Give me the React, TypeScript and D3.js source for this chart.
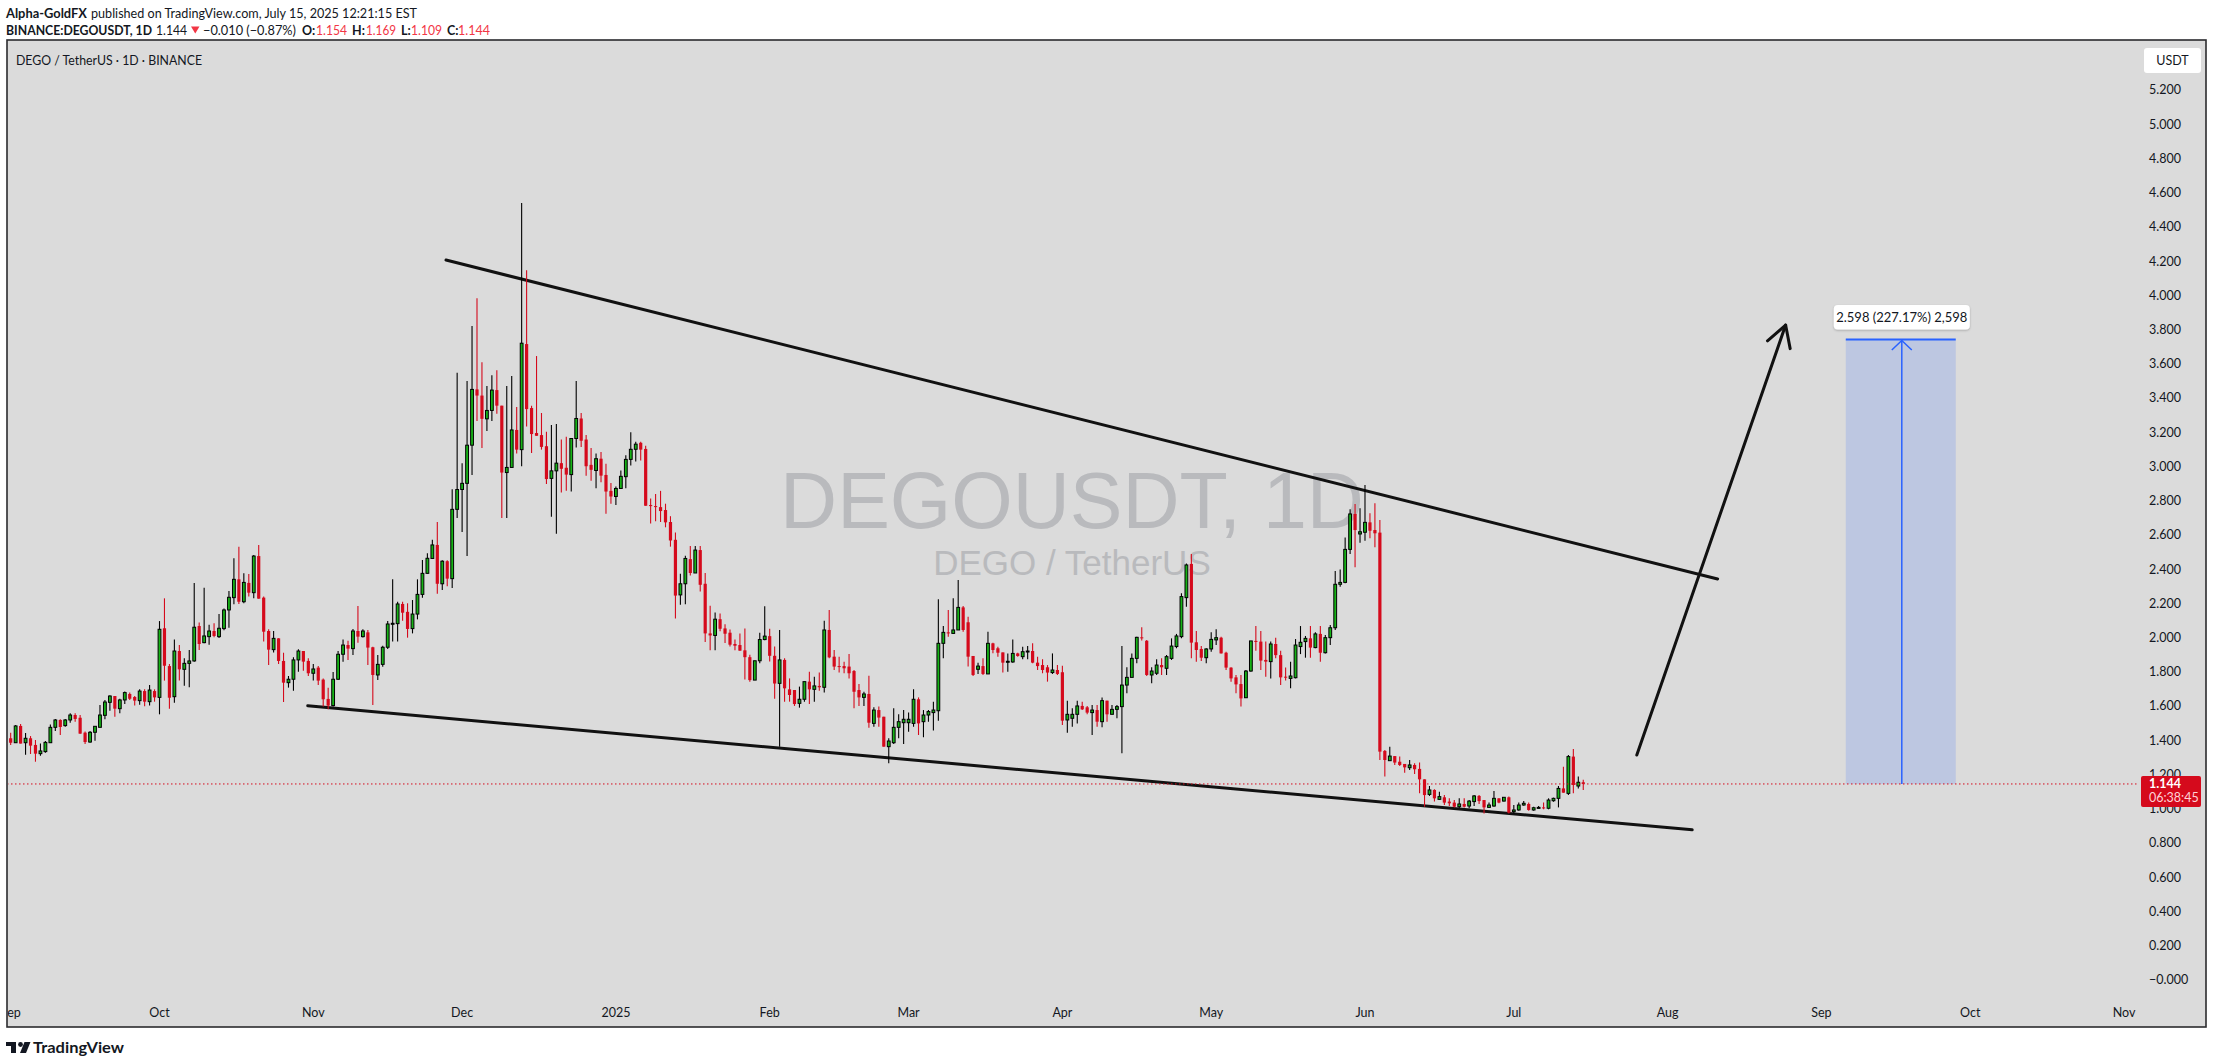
import React from 'react';
import * as d3 from 'd3';

const START_DATE = '2024-09-01T00:00:00Z';

const opens = [
  1.411, 1.385, 1.483, 1.385, 1.411, 1.372, 1.321, 1.333, 1.385, 1.475,
  1.518, 1.485, 1.518, 1.547, 1.531, 1.444, 1.389, 1.446, 1.475, 1.545,
  1.621, 1.658, 1.584, 1.635, 1.670, 1.652, 1.631, 1.687, 1.625, 1.687,
  1.650, 2.054, 1.833, 1.654, 1.921, 1.814, 1.849, 1.863, 2.067, 1.970,
  2.005, 2.038, 2.005, 2.052, 2.161, 2.233, 2.340, 2.209, 2.319, 2.262,
  2.476, 2.233, 2.038, 1.929, 1.995, 1.863, 1.736, 1.756, 1.869, 1.921,
  1.863, 1.791, 1.824, 1.754, 1.641, 1.602, 1.756, 1.902, 1.956, 1.935,
  2.038, 2.005, 2.030, 1.943, 1.781, 1.843, 1.943, 2.079, 2.081, 2.196,
  2.150, 2.052, 2.137, 2.252, 2.375, 2.462, 2.541, 2.314, 2.446, 2.344,
  2.749, 2.865, 2.901, 3.124, 3.450, 3.414, 3.278, 3.327, 3.446, 3.355,
  2.964, 2.994, 3.213, 3.098, 3.715, 3.341, 3.195, 3.183, 3.118, 2.930,
  2.974, 3.019, 2.992, 2.952, 3.163, 3.280, 3.157, 3.009, 2.976, 3.045,
  2.950, 2.857, 2.824, 2.871, 2.940, 3.041, 3.100, 3.138, 3.102, 2.774,
  2.768, 2.762, 2.745, 2.675, 2.571, 2.249, 2.314, 2.458, 2.377, 2.511,
  2.314, 2.024, 2.012, 2.107, 2.053, 2.028, 1.962, 1.956, 1.925, 1.885,
  1.751, 1.864, 1.988, 2.008, 1.893, 1.732, 1.869, 1.697, 1.693, 1.615,
  1.639, 1.742, 1.697, 1.717, 1.709, 2.044, 1.888, 1.833, 1.833, 1.830,
  1.804, 1.693, 1.650, 1.670, 1.498, 1.576, 1.537, 1.362, 1.385, 1.475,
  1.502, 1.502, 1.498, 1.639, 1.508, 1.547, 1.561, 1.572, 1.966, 2.030,
  2.024, 2.044, 2.176, 2.089, 1.892, 1.814, 1.833, 1.787, 1.966, 1.937,
  1.913, 1.857, 1.857, 1.907, 1.888, 1.917, 1.921, 1.853, 1.839, 1.826,
  1.795, 1.810, 1.797, 1.518, 1.528, 1.551, 1.600, 1.592, 1.561, 1.576,
  1.508, 1.631, 1.551, 1.580, 1.596, 1.722, 1.767, 1.878, 2.001, 1.981,
  1.781, 1.791, 1.839, 1.820, 1.878, 1.947, 2.005, 2.233, 2.430, 1.972,
  1.933, 1.882, 1.933, 1.986, 1.999, 1.911, 1.824, 1.767, 1.728, 1.648,
  1.804, 1.980, 1.976, 1.869, 1.859, 1.962, 1.897, 1.771, 1.761, 1.765,
  1.947, 1.976, 1.995, 1.941, 2.021, 1.911, 1.999, 2.057, 2.311, 2.322,
  2.515, 2.722, 2.605, 2.615, 2.673, 2.628, 2.613, 1.337, 1.280, 1.307,
  1.274, 1.261, 1.239, 1.255, 1.232, 1.171, 1.083, 1.109, 1.054, 1.066,
  1.041, 1.035, 1.011, 1.027, 1.015, 1.041, 1.074, 1.050, 1.007, 1.015,
  1.060, 1.044, 1.066, 0.982, 0.992, 1.021, 1.027, 0.992, 1.005, 1.007,
  1.002, 1.046, 1.060, 1.118, 1.089, 1.304, 1.132, 1.154
];

const highs = [
  1.444, 1.489, 1.494, 1.442, 1.424, 1.401, 1.381, 1.395, 1.492, 1.524,
  1.522, 1.524, 1.557, 1.557, 1.547, 1.450, 1.454, 1.483, 1.606, 1.635,
  1.662, 1.658, 1.642, 1.685, 1.678, 1.658, 1.697, 1.697, 1.722, 1.697,
  2.096, 2.229, 1.845, 1.989, 1.956, 1.878, 1.927, 2.319, 2.087, 2.291,
  2.075, 2.083, 2.137, 2.169, 2.272, 2.463, 2.530, 2.375, 2.371, 2.482,
  2.540, 2.239, 2.048, 2.038, 1.995, 1.911, 1.775, 1.884, 1.931, 1.921,
  1.878, 1.845, 1.833, 1.761, 1.707, 1.798, 1.921, 1.989, 1.981, 2.050,
  2.184, 2.048, 2.044, 1.946, 1.898, 1.952, 2.096, 2.340, 2.209, 2.209,
  2.200, 2.219, 2.340, 2.453, 2.492, 2.571, 2.675, 2.452, 2.452, 2.867,
  3.547, 3.019, 3.499, 3.821, 3.983, 3.608, 3.470, 3.533, 3.562, 3.355,
  3.470, 3.529, 3.347, 4.540, 4.147, 3.355, 3.645, 3.312, 3.203, 3.242,
  3.248, 3.157, 3.173, 3.163, 3.499, 3.312, 3.183, 3.108, 3.075, 3.084,
  3.015, 2.903, 2.883, 2.976, 3.065, 3.199, 3.144, 3.144, 3.120, 2.812,
  2.838, 2.857, 2.782, 2.709, 2.614, 2.373, 2.478, 2.535, 2.535, 2.535,
  2.377, 2.186, 2.146, 2.140, 2.077, 2.047, 1.988, 2.024, 2.053, 1.899,
  1.864, 2.028, 2.182, 2.051, 1.948, 2.044, 1.878, 1.761, 1.693, 1.713,
  1.742, 1.800, 1.771, 1.795, 2.098, 2.161, 1.927, 1.888, 1.859, 1.904,
  1.810, 1.728, 1.683, 1.777, 1.592, 1.596, 1.537, 1.411, 1.586, 1.551,
  1.576, 1.561, 1.697, 1.650, 1.576, 1.576, 1.625, 2.223, 2.067, 2.161,
  2.229, 2.336, 2.184, 2.122, 1.892, 1.853, 1.878, 2.034, 1.970, 1.946,
  1.913, 1.907, 1.989, 1.911, 1.946, 1.950, 1.966, 1.888, 1.873, 1.839,
  1.907, 1.839, 1.835, 1.631, 1.586, 1.631, 1.625, 1.600, 1.606, 1.606,
  1.650, 1.631, 1.606, 1.606, 1.950, 1.826, 1.907, 2.005, 2.060, 1.985,
  1.826, 1.873, 1.878, 1.898, 1.995, 2.021, 2.258, 2.433, 2.488, 2.038,
  1.950, 1.937, 2.030, 2.048, 2.005, 1.917, 1.826, 1.781, 1.781, 1.810,
  1.980, 2.067, 2.038, 1.976, 1.976, 1.999, 1.923, 1.824, 1.859, 1.991,
  2.067, 2.009, 2.067, 2.030, 2.067, 2.015, 2.073, 2.389, 2.398, 2.585,
  2.749, 2.780, 2.755, 2.891, 2.726, 2.784, 2.687, 1.343, 1.362, 1.307,
  1.304, 1.261, 1.284, 1.265, 1.269, 1.171, 1.132, 1.113, 1.099, 1.080,
  1.060, 1.050, 1.060, 1.060, 1.050, 1.080, 1.080, 1.050, 1.035, 1.103,
  1.060, 1.066, 1.070, 1.021, 1.035, 1.044, 1.035, 1.011, 1.015, 1.035,
  1.060, 1.064, 1.132, 1.245, 1.313, 1.348, 1.187, 1.169
];

const lows = [
  1.372, 1.385, 1.380, 1.315, 1.319, 1.274, 1.309, 1.327, 1.385, 1.454,
  1.430, 1.479, 1.502, 1.508, 1.438, 1.378, 1.385, 1.397, 1.475, 1.522,
  1.572, 1.537, 1.557, 1.611, 1.635, 1.602, 1.607, 1.598, 1.602, 1.625,
  1.551, 1.748, 1.584, 1.619, 1.748, 1.718, 1.709, 1.859, 1.927, 1.966,
  1.958, 2.001, 1.997, 2.042, 2.057, 2.194, 2.196, 2.200, 2.239, 2.229,
  2.227, 1.976, 1.839, 1.913, 1.845, 1.623, 1.707, 1.689, 1.800, 1.806,
  1.775, 1.748, 1.722, 1.596, 1.580, 1.596, 1.752, 1.859, 1.869, 1.898,
  1.970, 2.000, 1.839, 1.605, 1.752, 1.829, 1.933, 1.976, 1.976, 2.098,
  1.999, 2.024, 2.106, 2.233, 2.373, 2.462, 2.255, 2.278, 2.300, 2.290,
  2.699, 2.616, 2.476, 2.950, 3.266, 3.108, 3.207, 3.266, 3.308, 2.699,
  2.699, 2.990, 3.075, 3.001, 3.233, 3.078, 3.179, 3.098, 2.897, 2.705,
  2.606, 2.847, 2.857, 2.853, 3.110, 3.114, 2.946, 2.916, 2.873, 2.907,
  2.723, 2.782, 2.774, 2.871, 2.873, 3.005, 3.029, 3.035, 2.770, 2.666,
  2.679, 2.675, 2.644, 2.531, 2.111, 2.191, 2.195, 2.363, 2.377, 2.269,
  1.974, 1.925, 1.925, 2.037, 1.968, 1.948, 1.925, 1.923, 1.755, 1.741,
  1.751, 1.850, 1.984, 1.860, 1.642, 1.362, 1.625, 1.625, 1.600, 1.590,
  1.625, 1.611, 1.625, 1.689, 1.678, 1.878, 1.810, 1.795, 1.791, 1.761,
  1.586, 1.600, 1.600, 1.473, 1.479, 1.479, 1.362, 1.265, 1.378, 1.411,
  1.378, 1.449, 1.479, 1.430, 1.417, 1.508, 1.456, 1.514, 1.878, 2.005,
  2.020, 2.044, 2.034, 1.830, 1.775, 1.787, 1.781, 1.787, 1.908, 1.888,
  1.795, 1.800, 1.853, 1.888, 1.873, 1.873, 1.849, 1.810, 1.791, 1.742,
  1.787, 1.781, 1.489, 1.444, 1.479, 1.498, 1.576, 1.551, 1.430, 1.479,
  1.475, 1.508, 1.551, 1.528, 1.323, 1.674, 1.767, 1.849, 1.983, 1.775,
  1.732, 1.781, 1.781, 1.781, 1.869, 1.937, 1.995, 2.180, 1.878, 1.859,
  1.863, 1.849, 1.917, 1.956, 1.907, 1.810, 1.742, 1.674, 1.596, 1.648,
  1.800, 1.923, 1.810, 1.771, 1.761, 1.878, 1.722, 1.748, 1.703, 1.761,
  1.903, 1.882, 1.882, 1.937, 1.859, 1.907, 1.956, 2.044, 2.297, 2.317,
  2.488, 2.410, 2.554, 2.566, 2.580, 2.527, 1.284, 1.187, 1.280, 1.255,
  1.249, 1.210, 1.226, 1.202, 1.089, 1.011, 1.074, 1.041, 1.050, 1.021,
  1.015, 1.007, 1.002, 1.007, 1.002, 1.015, 1.027, 0.972, 1.007, 1.011,
  1.031, 1.041, 0.972, 0.972, 0.988, 1.017, 0.988, 0.988, 1.002, 0.996,
  0.996, 1.040, 1.007, 1.093, 1.079, 1.089, 1.118, 1.109
];

const closes = [
  1.385, 1.483, 1.380, 1.411, 1.368, 1.321, 1.337, 1.387, 1.475, 1.518,
  1.477, 1.518, 1.547, 1.524, 1.438, 1.389, 1.446, 1.481, 1.547, 1.623,
  1.658, 1.584, 1.635, 1.678, 1.642, 1.631, 1.687, 1.625, 1.693, 1.650,
  2.048, 1.835, 1.648, 1.921, 1.814, 1.849, 1.863, 2.060, 1.962, 2.009,
  2.038, 2.009, 2.054, 2.161, 2.235, 2.340, 2.209, 2.322, 2.262, 2.476,
  2.227, 2.034, 1.929, 1.995, 1.863, 1.736, 1.756, 1.869, 1.921, 1.859,
  1.791, 1.816, 1.748, 1.639, 1.602, 1.756, 1.902, 1.956, 1.935, 2.038,
  2.005, 2.038, 1.941, 1.781, 1.843, 1.943, 2.079, 2.083, 2.196, 2.145,
  2.050, 2.137, 2.252, 2.375, 2.463, 2.541, 2.314, 2.446, 2.344, 2.749,
  2.865, 2.901, 3.124, 3.450, 3.414, 3.278, 3.327, 3.446, 3.355, 2.964,
  2.994, 3.213, 3.098, 3.720, 3.335, 3.189, 3.179, 3.114, 2.926, 2.974,
  3.019, 2.986, 2.952, 3.163, 3.280, 3.150, 3.001, 2.980, 3.045, 2.946,
  2.853, 2.824, 2.871, 2.942, 3.041, 3.100, 3.130, 3.098, 2.770, 2.768,
  2.764, 2.739, 2.673, 2.567, 2.245, 2.314, 2.462, 2.377, 2.511, 2.308,
  2.024, 2.012, 2.107, 2.051, 2.022, 1.958, 1.952, 1.923, 1.885, 1.751,
  1.864, 1.988, 2.008, 1.893, 1.731, 1.869, 1.703, 1.664, 1.611, 1.639,
  1.742, 1.697, 1.717, 1.709, 2.044, 1.884, 1.830, 1.830, 1.820, 1.791,
  1.683, 1.650, 1.670, 1.502, 1.576, 1.532, 1.362, 1.395, 1.475, 1.508,
  1.522, 1.522, 1.639, 1.498, 1.547, 1.567, 1.576, 1.966, 2.030, 2.024,
  2.044, 2.176, 2.044, 1.888, 1.781, 1.833, 1.787, 1.966, 1.927, 1.911,
  1.853, 1.861, 1.907, 1.892, 1.917, 1.921, 1.853, 1.833, 1.810, 1.795,
  1.810, 1.787, 1.514, 1.551, 1.551, 1.600, 1.580, 1.561, 1.576, 1.508,
  1.631, 1.551, 1.580, 1.596, 1.722, 1.767, 1.878, 2.001, 1.995, 1.781,
  1.804, 1.839, 1.826, 1.888, 1.950, 2.009, 2.239, 2.424, 1.970, 1.927,
  1.882, 1.933, 1.989, 1.999, 1.907, 1.824, 1.761, 1.726, 1.644, 1.804,
  1.980, 1.976, 1.865, 1.859, 1.962, 1.897, 1.767, 1.767, 1.775, 1.956,
  1.972, 1.995, 1.941, 2.021, 1.911, 1.999, 2.057, 2.311, 2.322, 2.515,
  2.722, 2.628, 2.618, 2.673, 2.624, 2.609, 1.333, 1.284, 1.307, 1.269,
  1.255, 1.241, 1.255, 1.230, 1.171, 1.079, 1.109, 1.060, 1.070, 1.035,
  1.031, 1.011, 1.027, 1.011, 1.044, 1.074, 1.044, 1.007, 1.021, 1.060,
  1.035, 1.066, 0.976, 0.992, 1.021, 1.031, 0.992, 1.005, 1.007, 1.002,
  1.050, 1.060, 1.118, 1.093, 1.304, 1.138, 1.154, 1.144
];

const priceTicks = [0, 0.2, 0.4, 0.6, 0.8, 1.0, 1.2, 1.4, 1.6, 1.8, 2.0, 2.2, 2.4, 2.6, 2.8, 3.0, 3.2, 3.4, 3.6, 3.8, 4.0, 4.2, 4.4, 4.6, 4.8, 5.0, 5.2];
const priceTickLabels = ['\u22120.000', '0.200', '0.400', '0.600', '0.800', '1.000', '1.200', '1.400', '1.600', '1.800', '2.000', '2.200', '2.400', '2.600', '2.800', '3.000', '3.200', '3.400', '3.600', '3.800', '4.000', '4.200', '4.400', '4.600', '4.800', '5.000', '5.200'];

const monthTickDates = ['2024-09-01', '2024-10-01', '2024-11-01', '2024-12-01', '2025-01-01', '2025-02-01', '2025-03-01', '2025-04-01', '2025-05-01', '2025-06-01', '2025-07-01', '2025-08-01', '2025-09-01', '2025-10-01', '2025-11-01'];
const monthTickLabels = ['Sep', 'Oct', 'Nov', 'Dec', '2025', 'Feb', 'Mar', 'Apr', 'May', 'Jun', 'Jul', 'Aug', 'Sep', 'Oct', 'Nov'];

const upperTrendDates = ['2024-11-27T18:00:00Z', '2025-08-11T02:00:00Z'];
const upperTrendPrices = [4.206, 2.342];
const lowerTrendDates = ['2024-10-30T21:00:00Z', '2025-08-05T23:00:00Z'];
const lowerTrendPrices = [1.601, 0.876];
const arrowDates = ['2025-07-25T19:00:00Z', '2025-08-24T19:00:00Z'];
const arrowPrices = [1.313, 3.826];
const rangeDates = ['2025-09-05T22:00:00Z', '2025-09-17T05:00:00Z', '2025-09-28T02:00:00Z'];
const rangePrices = [1.144, 3.742];
const rangeLabel = '2.598 (227.17%) 2,598';
const lastPrice = 1.144;
const lastPriceLabel = '1.144';
const countdownLabel = '06:38:45';

const UP = '#16b316';
const DOWN = '#d50a1c';
const INK = '#131722';
const BG = '#dbdbdb';
const UI_FONT = "Lato, 'Open Sans', 'Noto Sans', sans-serif";

export default function App() {
  const W = 2213;
  const H = 1064;
  const frame = { left: 7, top: 40, right: 2206, bottom: 1027 };
  const paneRight = 2138;

  const x = d3
    .scaleUtc()
    .domain([new Date('2024-10-01T00:00:00Z'), new Date('2025-11-01T00:00:00Z')])
    .range([159.5, 2124]);
  const y = d3.scaleLinear().domain([0, 5.2]).range([979.7, 89.98]);

  const start = new Date(START_DATE);
  const candles = opens.map((o, i) => ({
    date: d3.utcDay.offset(start, i),
    o,
    h: highs[i],
    l: lows[i],
    c: closes[i],
  }));

  const bw = 2.8;

  const pt = (d: string, p: number): [number, number] => [x(new Date(d)), y(p)];

  const [u0, u1] = [pt(upperTrendDates[0], upperTrendPrices[0]), pt(upperTrendDates[1], upperTrendPrices[1])];
  const [l0, l1] = [pt(lowerTrendDates[0], lowerTrendPrices[0]), pt(lowerTrendDates[1], lowerTrendPrices[1])];
  const [a0, a1] = [pt(arrowDates[0], arrowPrices[0]), pt(arrowDates[1], arrowPrices[1])];

  const dx = a1[0] - a0[0];
  const dy = a1[1] - a0[1];
  const len = Math.hypot(dx, dy);
  const ux = -dx / len;
  const uy = -dy / len;
  const ang = Math.PI / 6;
  const hl = 24;
  const w1: [number, number] = [
    a1[0] + hl * (ux * Math.cos(ang) - uy * Math.sin(ang)),
    a1[1] + hl * (ux * Math.sin(ang) + uy * Math.cos(ang)),
  ];
  const w2: [number, number] = [
    a1[0] + hl * (ux * Math.cos(-ang) - uy * Math.sin(-ang)),
    a1[1] + hl * (ux * Math.sin(-ang) + uy * Math.cos(-ang)),
  ];

  const rx0 = x(new Date(rangeDates[0]));
  const rxm = x(new Date(rangeDates[1]));
  const rx1 = x(new Date(rangeDates[2]));
  const ryB = y(rangePrices[0]);
  const ryT = y(rangePrices[1]);

  const lpY = y(lastPrice);

  const line = d3.line();

  return (
    <div style={{ position: 'absolute', left: 0, top: 0 }}>
      <svg width={W} height={H} style={{ display: 'block' }} xmlns="http://www.w3.org/2000/svg">
        <defs>
          <clipPath id="pane">
            <rect x={frame.left + 1} y={frame.top + 1} width={paneRight - frame.left - 1} height={frame.bottom - frame.top - 2} />
          </clipPath>
          <clipPath id="taxis">
            <rect x={frame.left + 1} y={frame.top} width={frame.right - frame.left - 2} height={frame.bottom - frame.top} />
          </clipPath>
          <filter id="shadow" x="-10%" y="-30%" width="120%" height="160%">
            <feDropShadow dx="0" dy="1" stdDeviation="1.2" floodColor="#000" floodOpacity="0.25" />
          </filter>
        </defs>
        <rect x={0} y={0} width={W} height={H} fill="#ffffff" />

        {/* header */}
        <g fontFamily={UI_FONT} fontSize={12.5} fill={INK}>
          <text x={6} y={17.5} fontWeight={700} textLength={81} lengthAdjust="spacingAndGlyphs">Alpha-GoldFX</text>
          <text x={91} y={17.5} textLength={326} lengthAdjust="spacingAndGlyphs">published on TradingView.com, July 15, 2025 12:21:15 EST</text>
          <text x={6} y={34.5} fontWeight={700} textLength={146} lengthAdjust="spacingAndGlyphs">BINANCE:DEGOUSDT, 1D</text>
          <text x={156} y={34.5} textLength={31} lengthAdjust="spacingAndGlyphs">1.144</text>
          <path d="M191,26.5 L199.5,26.5 L195.25,33.5 Z" fill="#f23645" />
          <text x={203} y={34.5} textLength={93} lengthAdjust="spacingAndGlyphs">{'\u22120.010 (\u22120.87%)'}</text>
          <text x={302} y={34.5} fontWeight={700}>O:</text>
          <text x={316} y={34.5} fill="#f23645" textLength={31} lengthAdjust="spacingAndGlyphs">1.154</text>
          <text x={352} y={34.5} fontWeight={700}>H:</text>
          <text x={366} y={34.5} fill="#f23645" textLength={30} lengthAdjust="spacingAndGlyphs">1.169</text>
          <text x={401} y={34.5} fontWeight={700}>L:</text>
          <text x={411} y={34.5} fill="#f23645" textLength={31} lengthAdjust="spacingAndGlyphs">1.109</text>
          <text x={447} y={34.5} fontWeight={700}>C:</text>
          <text x={458} y={34.5} fill="#f23645" textLength={32} lengthAdjust="spacingAndGlyphs">1.144</text>
        </g>

        {/* frame */}
        <rect x={frame.left} y={frame.top} width={frame.right - frame.left} height={frame.bottom - frame.top} fill={BG} stroke="#2b2b2e" strokeWidth={1.6} />

        <text x={16} y={65} fontFamily={UI_FONT} fontSize={13.5} fill={INK} textLength={186} lengthAdjust="spacingAndGlyphs">
          {'DEGO / TetherUS \u00b7 1D \u00b7 BINANCE'}
        </text>

        {/* watermark */}
        <g fontFamily="'Liberation Sans', Arial, sans-serif" fill="#b9babd" textAnchor="middle">
          <text x={1072} y={528} fontSize={79}>DEGOUSDT, 1D</text>
          <text x={1072} y={575} fontSize={35}>DEGO / TetherUS</text>
        </g>

        <g clipPath="url(#pane)">
          <path d={line([u0, u1]) || ''} stroke="#111" strokeWidth={3} fill="none" strokeLinecap="round" />
          <path d={line([l0, l1]) || ''} stroke="#111" strokeWidth={3} fill="none" strokeLinecap="round" />

          {candles.map((d, i) => {
            const cx = x(d.date);
            const up = d.c >= d.o;
            const top = y(Math.max(d.o, d.c));
            const bot = y(Math.min(d.o, d.c));
            const bh = Math.max(bot - top, 1);
            return (
              <g key={i}>
                <line x1={cx} x2={cx} y1={y(d.h)} y2={y(d.l)} stroke={up ? '#000' : DOWN} strokeWidth={1.1} />
                {up ? (
                  <rect x={cx - bw / 2} y={top} width={bw} height={bh} fill={UP} stroke="#000" strokeWidth={1} />
                ) : (
                  <rect x={cx - 1.6} y={top} width={3.2} height={bh} fill={DOWN} />
                )}
              </g>
            );
          })}

          <path d={line([a0, a1]) || ''} stroke="#111" strokeWidth={3} fill="none" strokeLinecap="round" />
          <path d={line([w1, a1, w2]) || ''} stroke="#111" strokeWidth={3} fill="none" strokeLinecap="round" strokeLinejoin="round" />

          <rect x={rx0} y={ryT} width={rx1 - rx0} height={ryB - ryT} fill="rgba(41,98,255,0.17)" />
          <line x1={rx0} x2={rx1} y1={ryT} y2={ryT} stroke="#2962ff" strokeWidth={2} />
          <line x1={rxm} x2={rxm} y1={ryB} y2={ryT + 1} stroke="#2962ff" strokeWidth={1.5} />
          <path d={`M${rxm - 10},${ryT + 10.5} L${rxm},${ryT + 1} L${rxm + 10},${ryT + 10.5}`} stroke="#2962ff" strokeWidth={1.5} fill="none" />
          <g filter="url(#shadow)">
            <rect x={rxm - 68} y={ryT - 34.5} width={136} height={24.5} rx={4} fill="#ffffff" />
          </g>
          <text x={rxm} y={ryT - 17.5} textAnchor="middle" fontFamily={UI_FONT} fontSize={13} fill={INK}>{rangeLabel}</text>

          <line x1={frame.left} x2={paneRight + 4} y1={lpY} y2={lpY} stroke={DOWN} strokeWidth={1} strokeDasharray="1.5 2.5" />
        </g>

        {/* price axis */}
        <g fontFamily={UI_FONT} fontSize={12.5} fill={INK}>
          {priceTicks.map((v, i) => (
            <text key={i} x={2149} y={y(v) + 4.5}>{priceTickLabels[i]}</text>
          ))}
        </g>
        <rect x={2144} y={48} width={57} height={25} rx={3} fill="#ffffff" />
        <text x={2172.5} y={65} textAnchor="middle" fontFamily={UI_FONT} fontSize={12.5} fill={INK}>USDT</text>

        <rect x={2141} y={lpY - 8} width={60} height={31} rx={2} fill={DOWN} />
        <text x={2149} y={lpY + 4.5} fontFamily={UI_FONT} fontSize={12.5} fontWeight={700} fill="#ffffff">{lastPriceLabel}</text>
        <text x={2149} y={lpY + 18} fontFamily={UI_FONT} fontSize={12.5} fill="#ffd2d6">{countdownLabel}</text>

        {/* time axis */}
        <g clipPath="url(#taxis)" fontFamily={UI_FONT} fontSize={12.5} fill={INK} textAnchor="middle">
          {monthTickDates.map((d, i) => (
            <text key={i} x={x(new Date(d + 'T00:00:00Z'))} y={1017}>{monthTickLabels[i]}</text>
          ))}
        </g>

        {/* TradingView logo */}
        <g fill={INK}>
          <rect x={6} y={1042} width={10} height={4} />
          <rect x={11} y={1042} width={5} height={11} />
          <circle cx={20.5} cy={1044.5} r={2.4} />
          <path d="M24.5,1042 L30.5,1042 L26,1053 L20,1053 Z" />
          <text x={33} y={1053} fontFamily={UI_FONT} fontSize={16} fontWeight={700} textLength={91} lengthAdjust="spacingAndGlyphs">TradingView</text>
        </g>
      </svg>
    </div>
  );
}
